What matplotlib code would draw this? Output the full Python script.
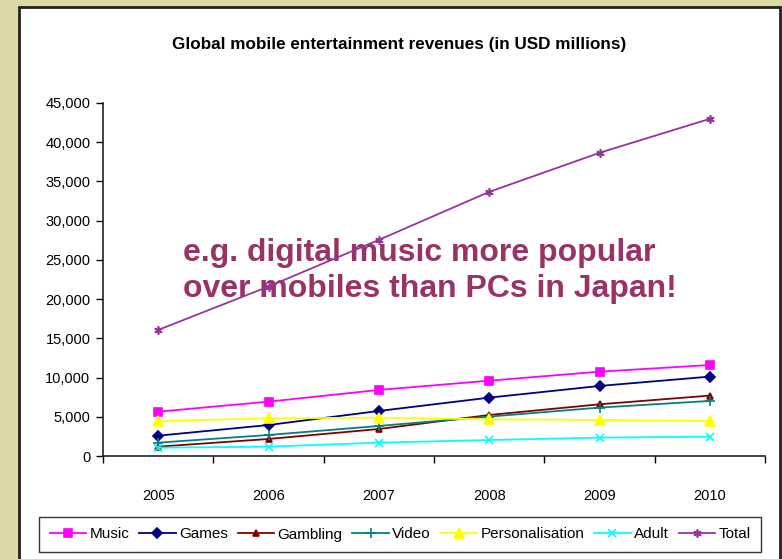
import matplotlib.pyplot as plt
from matplotlib.patches import Rectangle
from matplotlib.ticker import FuncFormatter

plt.rcParams['font.family'] = ['Liberation Sans', 'DejaVu Sans']

years = ["2005", "2006", "2007", "2008", "2009", "2010"]

music = [5650, 6930, 8420, 9600, 10750, 11600]
games = [2590, 3950, 5740, 7440, 8930, 10120]
gambling = [1190, 2170, 3440, 5230, 6590, 7700]
video = [1700, 2680, 3830, 5020, 6170, 7020]
personalisation = [4460, 4800, 4890, 4680, 4590, 4460]
adult = [1060, 1190, 1700, 2040, 2340, 2470]
total = [16070, 21600, 27550, 33670, 38650, 42980]

W, H = 782, 559
fig = plt.figure(figsize=(W / 100, H / 100), dpi=100)
fig.patch.set_facecolor("#DCD8A8")

# --- white panel with dark border (behind the axes) ---
panel = Rectangle((19 / W, -0.01), (780 - 19) / W, 1 - 7 / H + 0.01,
                  transform=fig.transFigure, facecolor="white",
                  edgecolor="#222222", linewidth=2, zorder=-5)
fig.patches.append(panel)

ax = fig.add_axes([103 / W, 1 - 456 / H, (765 - 103) / W, (456 - 103) / H])
ax.set_facecolor("none")

x = list(range(len(years)))
series = [
    ("Music", music, "#FF00FF", "s", 6),
    ("Games", games, "#000080", "D", 5),
    ("Gambling", gambling, "#800000", "^", 5),
    ("Video", video, "#008080", "+", 7),
    ("Personalisation", personalisation, "#FFFF00", "^", 7),
    ("Adult", adult, "#00FFFF", "x", 6),
    ("Total", total, "#993399", (6, 2, 0), 6),
]
for name, vals, col, mk, ms in series:
    ax.plot(x, vals, color=col, marker=mk, markersize=ms, linewidth=1.3,
            markeredgewidth=1.2, label=name, zorder=3, clip_on=False)

ax.set_xlim(-0.5, 5.5)
ax.set_ylim(0, 45000)
ax.set_yticks(range(0, 45001, 5000))
ax.yaxis.set_major_formatter(FuncFormatter(lambda v, p: f"{int(v):,}"))
ax.set_xticks([i - 0.5 for i in range(len(years) + 1)])
ax.set_xticklabels([])
ax.set_xticks(x, minor=True)
ax.set_xticklabels(years, minor=True)
ax.tick_params(axis="x", which="major", length=5, width=1, direction="out")
ax.tick_params(axis="x", which="minor", length=0, pad=24, labelsize=10.5)
ax.tick_params(axis="y", length=5, width=1, direction="out", labelsize=10.5, pad=4)
for s in ["top", "right"]:
    ax.spines[s].set_visible(False)
for s in ["left", "bottom"]:
    ax.spines[s].set_color("#222222")
    ax.spines[s].set_linewidth(1.2)

fig.text(399 / W, 1 - 44 / H, "Global mobile entertainment revenues (in USD millions)",
         ha="center", va="center", fontsize=12.3, fontweight="bold")

ax.text(183 / W, 1 - 271 / H,
        "e.g. digital music more popular\nover mobiles than PCs in Japan!",
        transform=fig.transFigure, ha="left", va="center", fontsize=23,
        fontweight="bold", color="#993366", linespacing=1.3, zorder=1)

leg = fig.legend(loc="center", bbox_to_anchor=(400 / W, 1 - 534.5 / H), ncol=7,
                 frameon=True, fancybox=False, edgecolor="black", fontsize=11,
                 handlelength=2.4, handletextpad=0.2, columnspacing=0.65,
                 borderpad=0.7)
leg.get_frame().set_linewidth(1.0)

fig.savefig("out.png", dpi=100, facecolor=fig.get_facecolor())
